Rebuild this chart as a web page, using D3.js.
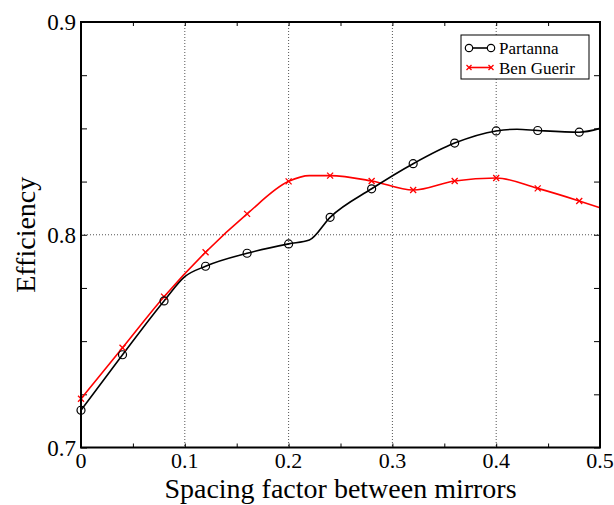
<!DOCTYPE html>
<html>
<head>
<meta charset="utf-8">
<script src="https://cdn.jsdelivr.net/npm/d3@7"></script>
<style>
  body { margin: 0; background: #fff; }
  svg text { font-family: "Liberation Serif", "Times New Roman", serif; fill: #000; }
</style>
</head>
<body>
<script>
// values
const partannaX = [0, 0.04, 0.08, 0.1, 0.12, 0.16, 0.2, 0.22, 0.24, 0.28, 0.32, 0.36, 0.4, 0.42, 0.44, 0.48, 0.5];
const partannaY = [0.7175, 0.7436, 0.7689, 0.7803, 0.7852, 0.7913, 0.7957, 0.7975, 0.8082, 0.8216, 0.8334, 0.8431, 0.8488, 0.8496, 0.8490, 0.8482, 0.8500];
const benX = [0, 0.04, 0.08, 0.12, 0.16, 0.2, 0.22, 0.24, 0.28, 0.32, 0.36, 0.4, 0.44, 0.48, 0.5];
const benY = [0.7229, 0.7469, 0.7709, 0.7918, 0.8098, 0.8251, 0.8278, 0.8278, 0.8253, 0.8210, 0.8253, 0.8267, 0.8218, 0.8159, 0.8127];
const seriesNames = ["Partanna", "Ben Guerir"];
const xTickLabels = [0, 0.1, 0.2, 0.3, 0.4, 0.5];
const yTickLabels = [0.7, 0.8, 0.9];
const xGrid = [0.1, 0.2, 0.3, 0.4];
const yGrid = [0.8];

const W = 614, H = 505;
const margin = {top: 22, right: 14, bottom: 57.5, left: 81},
    width = W - margin.left - margin.right,
    height = H - margin.top - margin.bottom;

const svg = d3.select("body").append("svg").attr("width", W).attr("height", H);
const g = svg.append("g").attr("transform", "translate(" + margin.left + "," + margin.top + ")");

const x = d3.scaleLinear().domain([0, 0.5]).range([0, width]);
const y = d3.scaleLinear().domain([0.7, 0.9]).range([height, 0]);

// grid
g.selectAll(".gx").data(xGrid).enter().append("line")
    .attr("x1", d => x(d)).attr("x2", d => x(d)).attr("y1", 0).attr("y2", height)
    .attr("stroke", "#555").attr("stroke-width", 1).attr("stroke-dasharray", "1,2");
g.selectAll(".gy").data(yGrid).enter().append("line")
    .attr("x1", 0).attr("x2", width).attr("y1", d => y(d)).attr("y2", d => y(d))
    .attr("stroke", "#555").attr("stroke-width", 1).attr("stroke-dasharray", "1,2");

// inward ticks on all sides
const xMinor = d3.range(0, 0.5001, 0.05);
const yMinor = d3.range(0.7, 0.9001, 0.025);
function noText(sel) { sel.selectAll("text").remove(); sel.select(".domain").remove(); }
g.append("g").attr("transform", "translate(0," + height + ")")
    .call(d3.axisTop(x).tickValues(xMinor).tickSize(4)).call(noText);
g.append("g").call(d3.axisBottom(x).tickValues(xMinor).tickSize(4)).call(noText);
g.append("g").call(d3.axisRight(y).tickValues(yMinor).tickSize(6)).call(noText);
g.append("g").attr("transform", "translate(" + width + ",0)")
    .call(d3.axisLeft(y).tickValues(yMinor).tickSize(6)).call(noText);

// tick labels
g.selectAll(".xl").data(xTickLabels).enter().append("text")
    .attr("x", d => x(d)).attr("y", height + 20)
    .attr("text-anchor", "middle").style("font-size", "22px")
    .text(d => d === 0 ? "0" : d3.format(".1f")(d));
g.selectAll(".yl").data(yTickLabels).enter().append("text")
    .attr("x", -5).attr("y", d => y(d) + 8)
    .attr("text-anchor", "end").style("font-size", "23px")
    .text(d => d3.format(".1f")(d));

// lines
const line = d3.line().x(d => x(d[0])).y(d => y(d[1])).curve(d3.curveMonotoneX);
const pData = partannaX.map((v, i) => [v, partannaY[i]]);
const bData = benX.map((v, i) => [v, benY[i]]);
const marked = d => Math.round(d[0] * 100) % 4 === 0 && d[0] < 0.5;

g.append("path").datum(bData).attr("d", line)
    .attr("fill", "none").attr("stroke", "#ff0000").attr("stroke-width", 1.6);
g.append("path").datum(pData).attr("d", line)
    .attr("fill", "none").attr("stroke", "#000").attr("stroke-width", 1.6);

function cross(sel, cx, cy, s) {
  sel.append("path")
    .attr("d", `M${cx - s},${cy - s}L${cx + s},${cy + s}M${cx - s},${cy + s}L${cx + s},${cy - s}`)
    .attr("stroke", "#ff0000").attr("stroke-width", 1.3).attr("fill", "none");
}
bData.filter(marked).forEach(d => cross(g, x(d[0]), y(d[1]), 3));
g.selectAll(".pm").data(pData.filter(marked)).enter().append("circle")
    .attr("cx", d => x(d[0])).attr("cy", d => y(d[1])).attr("r", 4)
    .attr("fill", "none").attr("stroke", "#000").attr("stroke-width", 1.2);

// frame
g.append("rect").attr("width", width).attr("height", height)
    .attr("fill", "none").attr("stroke", "#000").attr("stroke-width", 2);

// legend
const lg = svg.append("g");
lg.append("rect").attr("x", 461).attr("y", 35).attr("width", 128).attr("height", 44)
    .attr("fill", "#fff").attr("stroke", "#000").attr("stroke-width", 1);
lg.append("line").attr("x1", 469).attr("x2", 491).attr("y1", 48).attr("y2", 48)
    .attr("stroke", "#000").attr("stroke-width", 1.6);
[469, 491].forEach(cx => lg.append("circle").attr("cx", cx).attr("cy", 48).attr("r", 3.7)
    .attr("fill", "#fff").attr("stroke", "#000").attr("stroke-width", 1.2));
lg.append("line").attr("x1", 469).attr("x2", 491).attr("y1", 67.5).attr("y2", 67.5)
    .attr("stroke", "#ff0000").attr("stroke-width", 1.6);
[469, 491].forEach(cx => cross(lg, cx, 67.5, 2.5));
seriesNames.forEach((n, i) => lg.append("text")
    .attr("x", 499).attr("y", 54 + i * 19.5).style("font-size", "17px").text(n));

// axis titles
svg.append("text").attr("x", margin.left + width / 2).attr("y", 498)
    .attr("text-anchor", "middle").style("font-size", "28px")
    .text("Spacing factor between mirrors");
svg.append("text")
    .attr("transform", "translate(35," + (margin.top + height / 2) + ") rotate(-90)")
    .attr("text-anchor", "middle").style("font-size", "28px")
    .text("Efficiency");
</script>
</body>
</html>
